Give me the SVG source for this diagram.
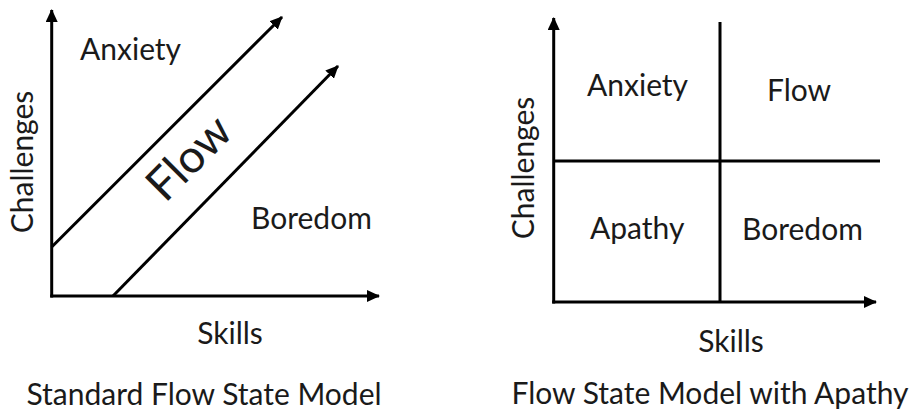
<svg xmlns="http://www.w3.org/2000/svg" width="912" height="412" viewBox="0 0 912 412">
  <style>
    .ln { stroke: #000; stroke-width: 3; fill: none; }
    .t { font-family: Lato, "Open Sans", "Liberation Sans", sans-serif; fill: #1a1a1a; font-size: 30px; }
    .mid { text-anchor: middle; }
  </style>
  <defs>
    <marker id="ah" markerUnits="userSpaceOnUse" markerWidth="14" markerHeight="12" refX="12" refY="6" orient="auto">
      <path d="M0,0 L13,6 L0,12 Z" fill="#000"/>
    </marker>
  </defs>
  <rect width="912" height="412" fill="#fff"/>

  <g id="connectors">
    <!-- Left chart axes -->
    <line class="ln" x1="51.7" y1="297.5" x2="51.7" y2="10" marker-end="url(#ah)"/>
    <line class="ln" x1="50.2" y1="296" x2="379" y2="296" marker-end="url(#ah)"/>
    <line class="ln" x1="51.7" y1="247" x2="282" y2="17" marker-end="url(#ah)"/>
    <line class="ln" x1="113" y1="296" x2="338" y2="66" marker-end="url(#ah)"/>
    <!-- Right chart axes -->
    <line class="ln" x1="553.7" y1="303.5" x2="553.7" y2="18" marker-end="url(#ah)"/>
    <line class="ln" x1="552.2" y1="302" x2="876" y2="302" marker-end="url(#ah)"/>
    <line class="ln" x1="720" y1="22" x2="720" y2="302"/>
    <line class="ln" x1="553.7" y1="161" x2="880" y2="161"/>
  </g>

  <g id="left-chart">
    <g id="l-anxiety"><text class="t" x="80" y="60">Anxiety</text></g>
    <g id="l-boredom"><text class="t" x="251" y="229">Boredom</text></g>
    <g id="l-flow"><text class="t mid" style="font-size:46px" transform="translate(200,169) rotate(-45)">Flow</text></g>
    <g id="l-challenges"><text class="t mid" transform="translate(33,162) rotate(-90)">Challenges</text></g>
    <g id="l-skills"><text class="t mid" x="230" y="344">Skills</text></g>
    <g id="l-title"><text class="t mid" x="204" y="405">Standard Flow State Model</text></g>
  </g>

  <g id="right-chart">
    <g id="r-anxiety"><text class="t" x="587" y="96">Anxiety</text></g>
    <g id="r-flow"><text class="t" x="767" y="101">Flow</text></g>
    <g id="r-apathy"><text class="t" x="590" y="239">Apathy</text></g>
    <g id="r-boredom"><text class="t" x="742" y="240">Boredom</text></g>
    <g id="r-challenges"><text class="t mid" transform="translate(534,168) rotate(-90)">Challenges</text></g>
    <g id="r-skills"><text class="t mid" x="731" y="352">Skills</text></g>
    <g id="r-title"><text class="t mid" x="710" y="404">Flow State Model with Apathy</text></g>
  </g>
</svg>
